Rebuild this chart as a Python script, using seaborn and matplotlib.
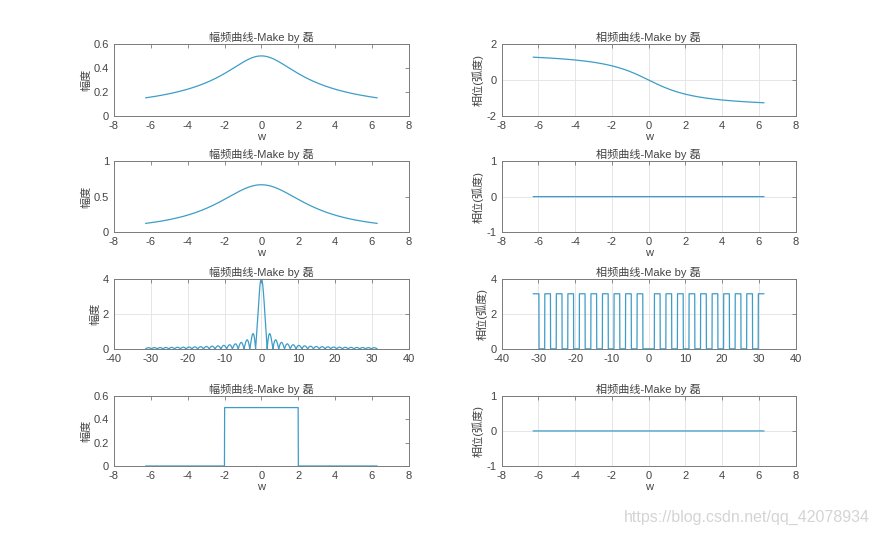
import numpy as np
import pandas as pd
import matplotlib
matplotlib.use('Agg')
import matplotlib.pyplot as plt
from matplotlib.ticker import FormatStrFormatter
import seaborn as sns

# frequency axes used in the four rows
w_short = np.arange(-2 * np.pi, 2 * np.pi + 0.005, 0.01)
w_long = np.arange(-10 * np.pi, 10 * np.pi + 0.005, 0.01)

# spectra of the four signals
row1 = 1 / (2 + 1j * w_short)                     # peak 0.5, phase +-1.26
row2 = 6 / (9 + w_short ** 2) + 0j                # peak 0.667, real
row3 = 4 * np.sinc(2 * w_long / np.pi) + 0j       # 2sin(2w)/w, peak 4
row4 = np.where(np.abs(w_short) < 2, 0.5, 0.0) + 0j  # ideal low-pass 0.5

spectra = [(w_short, row1), (w_short, row2), (w_long, row3), (w_short, row4)]

mag_ylim = [(0, 0.6), (0, 1), (0, 4), (0, 0.6)]
mag_yticks = [[0, 0.2, 0.4, 0.6], [0, 0.5, 1], [0, 2, 4], [0, 0.2, 0.4, 0.6]]
pha_ylim = [(-2, 2), (-1, 1), (0, 4), (-1, 1)]
pha_yticks = [[-2, 0, 2], [-1, 0, 1], [0, 2, 4], [-1, 0, 1]]
xlims = [(-8, 8), (-8, 8), (-40, 40), (-8, 8)]
xticks = [range(-8, 9, 2), range(-8, 9, 2), range(-40, 41, 10), range(-8, 9, 2)]
mag_grid = [False, False, True, False]
show_xlabel = [True, True, False, True]

sns.set_style('white')
plt.rcParams['font.family'] = ['Liberation Sans', 'Noto Sans CJK SC', 'DejaVu Sans']
plt.rcParams['axes.unicode_minus'] = False

line_color = '#3d9dc8'
text_color = '#444444'
frame_color = '#7a7a7a'

fig = plt.figure(figsize=(8.8, 5.35), dpi=100)

rows_y = [(0.783, 0.135), (0.566, 0.133), (0.348, 0.131), (0.129, 0.131)]
cols_x = [(0.1295, 0.335), (0.570, 0.334)]


def style(ax, xl, xt, yl, yt, grid):
    ax.set_xlim(*xl)
    ax.set_xticks(list(xt))
    ax.set_ylim(*yl)
    ax.set_yticks(yt)
    ax.xaxis.set_major_formatter(FormatStrFormatter('%g'))
    ax.yaxis.set_major_formatter(FormatStrFormatter('%g'))
    ax.tick_params(direction='in', top=True, right=True, length=3,
                   labelsize=8, colors=frame_color, labelcolor=text_color, width=0.6)
    for s in ax.spines.values():
        s.set_color(frame_color)
        s.set_linewidth(0.7)
    if grid:
        ax.grid(True, color='#e2e2e2', linewidth=0.6)
    ax.set_axisbelow(True)


for i, (w, H) in enumerate(spectra):
    y0, h = rows_y[i]
    df = pd.DataFrame({'w': w, 'mag': np.abs(H), 'phase': np.angle(H)})

    ax = fig.add_axes([cols_x[0][0], y0, cols_x[0][1], h])
    sns.lineplot(data=df, x='w', y='mag', ax=ax, color=line_color,
                 linewidth=0.9, estimator=None, sort=False)
    style(ax, xlims[i], xticks[i], mag_ylim[i], mag_yticks[i], mag_grid[i])
    ax.set_title('幅频曲线-Make by 磊', fontsize=8, color=text_color, pad=2)
    ax.set_ylabel('幅度', fontsize=8, color=text_color, labelpad=2)
    ax.set_xlabel('w' if show_xlabel[i] else '', fontsize=8, color=text_color, labelpad=1)

    ax = fig.add_axes([cols_x[1][0], y0, cols_x[1][1], h])
    sns.lineplot(data=df, x='w', y='phase', ax=ax, color=line_color,
                 linewidth=0.9, estimator=None, sort=False)
    style(ax, xlims[i], xticks[i], pha_ylim[i], pha_yticks[i], True)
    ax.set_title('相频曲线-Make by 磊', fontsize=8, color=text_color, pad=2)
    ax.set_ylabel('相位(弧度)', fontsize=8, color=text_color, labelpad=2)
    ax.set_xlabel('w' if show_xlabel[i] else '', fontsize=8, color=text_color, labelpad=1)

fig.text(0.988, 0.033, 'https://blog.csdn.net/qq_42078934', ha='right', va='center',
         fontsize=11.5, color='#d4d4d4')

fig.savefig('out.png', dpi=100)
